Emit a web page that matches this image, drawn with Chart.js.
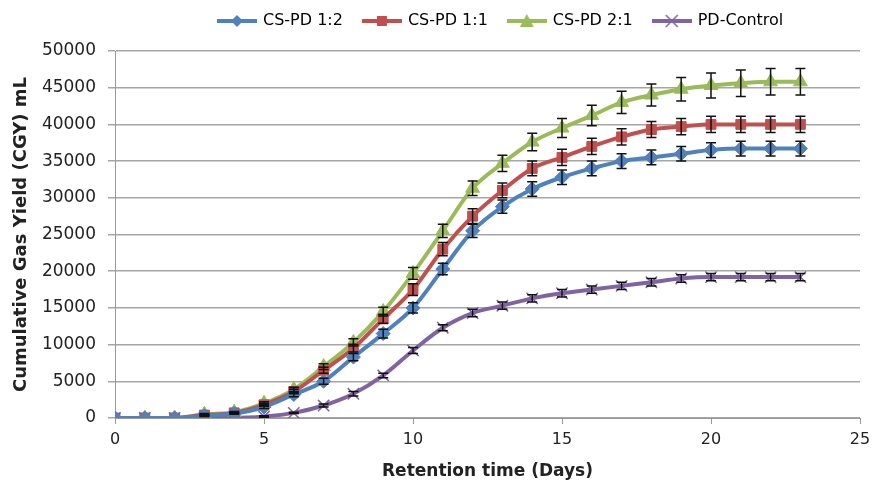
<!DOCTYPE html>
<html>
<head>
<meta charset="utf-8">
<script src="https://cdn.jsdelivr.net/npm/chart.js@4/dist/chart.umd.min.js"></script>
<style>
  html, body { margin: 0; padding: 0; background: #fff; }
  #wrap { width: 879px; height: 486px; }
</style>
</head>
<body>
<div id="wrap"><canvas id="gasChart" width="879" height="486"></canvas></div>
<script>
// retention time in days
var days = [0,1,2,3,4,5,6,7,8,9,10,11,12,13,14,15,16,17,18,19,20,21,22,23];

var cspd12 = [0,0,0,300,600,1500,3200,5000,8300,11500,15000,20300,25500,28800,31200,32800,34000,35000,35500,36000,36500,36700,36700,36700];
var cspd11 = [0,0,0,400,700,1800,3600,6500,9500,13500,17500,23000,27500,31000,34000,35500,37000,38300,39300,39700,40000,40000,40000,40000];
var cspd21 = [0,0,0,500,800,2000,3900,7000,10300,14500,19700,25500,31300,34700,37600,39500,41200,43000,44000,44800,45300,45600,45800,45800];
var pdControl = [0,0,0,0,0,200,700,1700,3300,5800,9200,12300,14300,15300,16300,17000,17500,18000,18500,19000,19200,19200,19200,19200];

// error bar half-heights
var cspd12Err = [0,0,0,100,100,200,300,400,500,600,700,800,900,900,1000,1000,1000,1000,1000,1000,1000,1000,1000,1000];
var cspd11Err = [0,0,0,100,100,200,300,400,500,600,800,900,1000,1000,1000,1100,1100,1100,1100,1100,1100,1100,1100,1100];
var cspd21Err = [0,0,0,100,100,200,300,400,500,600,800,900,1000,1100,1200,1300,1400,1500,1500,1600,1700,1800,1800,1800];
var pdControlErr = [0,0,0,0,0,100,100,200,300,300,400,400,500,500,500,500,500,500,500,500,500,500,500,500];

var seriesNames = ["CS-PD 1:2", "CS-PD 1:1", "CS-PD 2:1", "PD-Control"];
var seriesColors = ["#4F81BD", "#C0504D", "#9BBB59", "#8064A2"];
var seriesMarkers = ["rectRot", "rect", "triangle", "crossRot"];

function toPoints(vals) {
    return vals.map(function(v, i) { return {x: days[i], y: v}; });
}

// little line + marker picture for the legend
function legendIcon(color, marker) {
    var c = document.createElement("canvas");
    c.width = 40;
    c.height = 16;
    var g = c.getContext("2d");
    g.strokeStyle = color;
    g.fillStyle = color;
    g.lineWidth = 4;
    g.beginPath();
    g.moveTo(0, 8);
    g.lineTo(40, 8);
    g.stroke();
    g.lineWidth = 1.5;
    g.beginPath();
    if (marker == "rectRot") {
        g.moveTo(20, 2); g.lineTo(26, 8); g.lineTo(20, 14); g.lineTo(14, 8); g.closePath(); g.fill();
    } else if (marker == "rect") {
        g.rect(15, 3, 10, 10); g.fill();
    } else if (marker == "triangle") {
        g.moveTo(20, 1); g.lineTo(27, 14); g.lineTo(13, 14); g.closePath(); g.fill();
    } else {
        g.moveTo(14, 2); g.lineTo(26, 14); g.moveTo(26, 2); g.lineTo(14, 14); g.stroke();
    }
    return c;
}

var errorBars = {
    id: "errorBars",
    afterDatasetsDraw: function(chart) {
        var ctx = chart.ctx;
        var yScale = chart.scales.y;
        ctx.save();
        ctx.strokeStyle = "#111";
        ctx.lineWidth = 1.5;
        chart.data.datasets.forEach(function(ds, i) {
            var meta = chart.getDatasetMeta(i);
            meta.data.forEach(function(pt, j) {
                var e = ds.errors[j];
                var v = ds.data[j].y;
                if (!e) return;
                var top = yScale.getPixelForValue(v + e);
                var bot = yScale.getPixelForValue(v - e);
                ctx.beginPath();
                ctx.moveTo(pt.x, top); ctx.lineTo(pt.x, bot);
                ctx.moveTo(pt.x - 5, top); ctx.lineTo(pt.x + 5, top);
                ctx.moveTo(pt.x - 5, bot); ctx.lineTo(pt.x + 5, bot);
                ctx.stroke();
            });
        });
        ctx.restore();
    }
};

// legend: fixed height, and start it where the original one starts
var legendPlace = {
    id: "legendPlace",
    beforeInit: function(chart) {
        var fit = chart.legend.fit;
        chart.legend.fit = function() {
            fit.bind(chart.legend)();
            this.height = 59;
        };
    },
    afterLayout: function(chart) {
        chart.legend.left = 198;
    }
};

Chart.defaults.font.family = "'DejaVu Sans', sans-serif";
Chart.defaults.color = "#222";

var allValues = [cspd12, cspd11, cspd21, pdControl];
var allErrors = [cspd12Err, cspd11Err, cspd21Err, pdControlErr];

var datasets = allValues.map(function(vals, k) {
    return {
        label: seriesNames[k],
        data: toPoints(vals),
        errors: allErrors[k],
        borderColor: seriesColors[k],
        backgroundColor: seriesColors[k],
        borderWidth: 4,
        pointStyle: seriesMarkers[k],
        pointRadius: seriesMarkers[k] == "triangle" ? 8 : (seriesMarkers[k] == "crossRot" ? 8 : 7),
        pointBorderWidth: seriesMarkers[k] == "crossRot" ? 1.5 : 1,
        cubicInterpolationMode: "monotone",
        icon: legendIcon(seriesColors[k], seriesMarkers[k])
    };
});

var config = {
    type: "line",
    data: { datasets: datasets },
    options: {
        responsive: false,
        animation: false,
        layout: { padding: { top: -8, left: 0, right: 19, bottom: 0 } },
        plugins: {
            legend: {
                position: "top",
                align: "start",
                labels: {
                    usePointStyle: true,
                    pointStyleWidth: 36,
                    padding: 21,
                    font: { size: 16 },
                    color: "#111",
                    generateLabels: function(chart) {
                        return chart.data.datasets.map(function(ds, i) {
                            return {
                                text: ds.label,
                                pointStyle: ds.icon,
                                fillStyle: ds.backgroundColor,
                                strokeStyle: ds.borderColor,
                                lineWidth: 0,
                                hidden: false,
                                datasetIndex: i
                            };
                        });
                    }
                }
            },
            tooltip: { enabled: false }
        },
        scales: {
            x: {
                type: "linear",
                min: 0,
                max: 25,
                ticks: { stepSize: 5, font: { size: 16 }, padding: 6 },
                grid: { drawOnChartArea: false, color: "#999", tickLength: 6 },
                border: { color: "#999" },
                title: { display: true, text: "Retention time (Days)", font: { size: 17, weight: "bold" }, padding: { top: 4, bottom: 4 } },
                afterFit: function(scale) { scale.height = 68; }
            },
            y: {
                min: 0,
                max: 50000,
                ticks: {
                    stepSize: 5000,
                    font: { size: 17 },
                    padding: 12,
                    callback: function(v) { return String(v); }
                },
                grid: { color: "#a6a6a6", tickLength: 7, lineWidth: 1.5 },
                border: { color: "#999" },
                title: { display: true, text: "Cumulative Gas Yield (CGY) mL", font: { size: 18, weight: "bold" }, padding: { top: 11, bottom: 4 } },
                afterFit: function(scale) { scale.width = 115; }
            }
        }
    },
    plugins: [errorBars, legendPlace]
};

var ctx = document.getElementById("gasChart");
window.myChart = new Chart(ctx, config);
</script>
</body>
</html>
